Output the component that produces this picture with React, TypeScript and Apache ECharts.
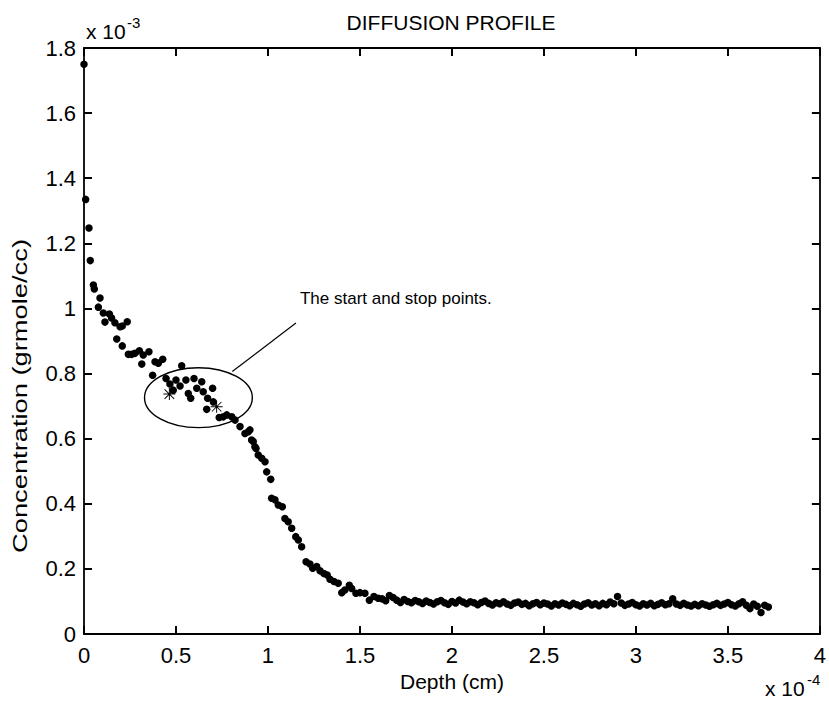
import React, { useEffect, useRef } from "react";
import * as echarts from "echarts";

// Depth in units of 1e-4 cm, concentration in units of 1e-3 grmole/cc
const profile: [number, number][] = [
  [0.000, 1.750], [0.009, 1.335], [0.027, 1.247], [0.034, 1.147], [0.051, 1.072],
  [0.056, 1.060], [0.078, 1.004], [0.087, 1.032], [0.105, 0.986], [0.114, 0.958],
  [0.138, 0.983], [0.150, 0.971], [0.168, 0.956], [0.178, 0.906], [0.196, 0.944],
  [0.208, 0.946], [0.208, 0.885], [0.235, 0.959], [0.241, 0.859], [0.259, 0.859],
  [0.277, 0.862], [0.301, 0.870], [0.314, 0.829], [0.322, 0.857], [0.353, 0.867],
  [0.373, 0.795], [0.386, 0.836], [0.404, 0.832], [0.428, 0.844], [0.446, 0.785],
  [0.467, 0.768], [0.485, 0.749], [0.500, 0.780], [0.522, 0.762], [0.531, 0.824],
  [0.554, 0.780], [0.567, 0.739], [0.580, 0.724], [0.598, 0.785], [0.613, 0.755],
  [0.640, 0.775], [0.648, 0.744], [0.667, 0.690], [0.672, 0.724], [0.699, 0.755],
  [0.703, 0.713], [0.735, 0.665], [0.757, 0.667], [0.776, 0.673], [0.803, 0.667],
  [0.821, 0.657], [0.848, 0.637], [0.875, 0.616], [0.893, 0.621], [0.902, 0.627],
  [0.911, 0.596], [0.920, 0.591], [0.929, 0.575], [0.935, 0.570], [0.947, 0.550],
  [0.966, 0.540], [0.984, 0.529], [0.993, 0.498], [1.015, 0.475], [1.020, 0.417],
  [1.038, 0.412], [1.056, 0.396], [1.078, 0.391], [1.092, 0.355], [1.110, 0.345],
  [1.129, 0.325], [1.151, 0.299], [1.165, 0.289], [1.183, 0.268], [1.207, 0.222],
  [1.228, 0.215], [1.243, 0.202], [1.265, 0.207], [1.283, 0.194], [1.304, 0.186],
  [1.322, 0.181], [1.337, 0.168], [1.359, 0.161], [1.382, 0.156], [1.401, 0.127],
  [1.418, 0.135], [1.442, 0.150], [1.455, 0.140], [1.478, 0.125], [1.500, 0.127],
  [1.527, 0.125], [1.551, 0.104], [1.576, 0.115], [1.599, 0.110],
  [1.62, 0.108], [1.64, 0.102], [1.66, 0.118], [1.68, 0.112], [1.70, 0.104],
  [1.72, 0.097], [1.74, 0.106], [1.76, 0.100], [1.78, 0.096], [1.80, 0.103],
  [1.82, 0.099], [1.84, 0.094], [1.86, 0.101], [1.88, 0.097], [1.90, 0.092],
  [1.92, 0.099], [1.94, 0.103], [1.96, 0.096], [1.98, 0.091], [2.00, 0.100],
  [2.02, 0.095], [2.04, 0.104], [2.06, 0.098], [2.08, 0.093], [2.10, 0.099],
  [2.12, 0.096], [2.14, 0.090], [2.16, 0.097], [2.18, 0.101], [2.20, 0.094],
  [2.22, 0.089], [2.24, 0.096], [2.26, 0.093], [2.28, 0.099], [2.30, 0.092],
  [2.32, 0.088], [2.34, 0.095], [2.36, 0.098], [2.38, 0.091], [2.40, 0.094],
  [2.42, 0.087], [2.44, 0.093], [2.46, 0.097], [2.48, 0.090], [2.50, 0.095],
  [2.52, 0.092], [2.54, 0.086], [2.56, 0.093], [2.58, 0.089], [2.60, 0.095],
  [2.62, 0.091], [2.64, 0.087], [2.66, 0.094], [2.68, 0.090], [2.70, 0.085],
  [2.72, 0.092], [2.74, 0.096], [2.76, 0.089], [2.78, 0.093], [2.80, 0.087],
  [2.82, 0.094], [2.84, 0.090], [2.86, 0.098], [2.88, 0.093], [2.90, 0.115],
  [2.92, 0.095], [2.94, 0.088], [2.96, 0.092], [2.98, 0.097], [3.00, 0.090],
  [3.02, 0.086], [3.04, 0.093], [3.06, 0.089], [3.08, 0.094], [3.10, 0.087],
  [3.12, 0.091], [3.14, 0.096], [3.16, 0.090], [3.18, 0.093], [3.20, 0.108],
  [3.22, 0.092], [3.24, 0.088], [3.26, 0.094], [3.28, 0.089], [3.30, 0.086],
  [3.32, 0.091], [3.34, 0.087], [3.36, 0.093], [3.38, 0.089], [3.40, 0.085],
  [3.42, 0.090], [3.44, 0.094], [3.46, 0.088], [3.48, 0.092], [3.50, 0.097],
  [3.52, 0.090], [3.54, 0.086], [3.56, 0.093], [3.58, 0.099], [3.60, 0.088],
  [3.62, 0.078], [3.64, 0.092], [3.66, 0.085], [3.68, 0.066], [3.70, 0.088],
  [3.72, 0.083],
];

const startStop: [number, number][] = [
  [0.464, 0.737],
  [0.721, 0.698],
];

const X_MIN = 0, X_MAX = 4, X_STEP = 0.5;
const Y_MIN = 0, Y_MAX = 1.8, Y_STEP = 0.2;

const titleText = "DIFFUSION PROFILE";
const xName = "Depth (cm)";
const yName = "Concentration (grmole/cc)";
const noteText = "The start and stop points.";

// annotation geometry (data units)
const ellipseCenter: [number, number] = [0.622, 0.726];
const ellipseRadius: [number, number] = [0.293, 0.092];
const pointerFrom: [number, number] = [0.806, 0.806];
const pointerTo: [number, number] = [1.152, 0.955];
const noteAt: [number, number] = [1.174, 1.032];

const FONT = "'Liberation Sans', Arial, Helvetica, sans-serif";
const STAR =
  "path://M0 9.2H20V10.8H0Z M9.2 0H10.8V20H9.2Z M2.6 1.5L18.5 17.4L17.4 18.5L1.5 2.6Z M17.4 1.5L18.5 2.6L2.6 18.5L1.5 17.4Z";

export default function App() {
  const ref = useRef<HTMLDivElement>(null);
  useEffect(() => {
    document.body.style.margin = "0";
    const chart = echarts.init(ref.current!, null, { renderer: "svg" });
    const mkLine = () => ({ show: true, onZero: false, lineStyle: { color: "#000", width: 1.8 } });
    const mkTick = () => ({ show: true, inside: true, length: 8, lineStyle: { color: "#000", width: 2 } });
    const label = { color: "#000", fontSize: 22, fontFamily: FONT };
    const option: any = {
      animation: false,
      backgroundColor: "#fff",
      title: {
        text: titleText,
        left: 451,
        top: 12,
        textAlign: "center",
        padding: 0,
        textStyle: { fontFamily: FONT, fontSize: 21, fontWeight: "normal", color: "#000" },
      },
      grid: { left: 84, right: 9, top: 48, bottom: 70 },
      xAxis: [
        {
          type: "value", min: X_MIN, max: X_MAX, interval: X_STEP, position: "bottom",
          name: xName, nameLocation: "middle", nameGap: 32,
          nameTextStyle: { ...label, fontSize: 21 },
          axisLine: mkLine(), axisTick: mkTick(),
          axisLabel: { ...label, margin: 10 }, splitLine: { show: false },
        },
        {
          type: "value", min: X_MIN, max: X_MAX, interval: X_STEP, position: "top",
          axisLine: mkLine(), axisTick: mkTick(),
          axisLabel: { show: false }, splitLine: { show: false },
        },
      ],
      yAxis: [
        {
          type: "value", min: Y_MIN, max: Y_MAX, interval: Y_STEP, position: "left",
          axisLine: mkLine(), axisTick: mkTick(),
          axisLabel: { ...label, margin: 8 }, splitLine: { show: false },
        },
        {
          type: "value", min: Y_MIN, max: Y_MAX, interval: Y_STEP, position: "right",
          axisLine: mkLine(), axisTick: mkTick(),
          axisLabel: { show: false }, splitLine: { show: false },
        },
      ],
      series: [
        {
          type: "scatter", xAxisIndex: 0, yAxisIndex: 0, data: profile,
          symbol: "circle", symbolSize: 7.5, itemStyle: { color: "#000", opacity: 1 },
        },
        {
          type: "scatter", xAxisIndex: 0, yAxisIndex: 0, data: startStop,
          symbol: STAR, symbolSize: 12, itemStyle: { color: "#000", opacity: 1 },
        },
      ],
    };
    chart.setOption(option);

    const px = (p: [number, number]) => chart.convertToPixel({ gridIndex: 0 }, p) as number[];
    const c = px(ellipseCenter);
    const e = px([ellipseCenter[0] + ellipseRadius[0], ellipseCenter[1] + ellipseRadius[1]]);
    const a = px(pointerFrom);
    const b = px(pointerTo);
    const n = px(noteAt);
    const tl = px([X_MIN, Y_MAX]);
    const br = px([X_MAX, Y_MIN]);
    const txt = { fill: "#000", fontFamily: FONT };
    chart.setOption({
      graphic: [
        {
          type: "ellipse", silent: true,
          shape: { cx: c[0], cy: c[1], rx: e[0] - c[0], ry: c[1] - e[1] },
          style: { fill: "none", stroke: "#000", lineWidth: 1.4 },
        },
        {
          type: "line", silent: true,
          shape: { x1: a[0], y1: a[1], x2: b[0], y2: b[1] },
          style: { stroke: "#000", lineWidth: 1.2 },
        },
        {
          type: "text", x: n[0], y: n[1],
          style: { ...txt, text: noteText, fontSize: 17, align: "left", verticalAlign: "middle" },
        },
        {
          type: "text", x: 20, y: 396, rotation: Math.PI / 2, scaleX: 1.3,
          style: { ...txt, text: yName, fontSize: 21, align: "center", verticalAlign: "middle" },
        },
        {
          type: "text", x: tl[0] + 2, y: tl[1] - 6,
          style: { ...txt, text: "x 10", fontSize: 21, align: "left", verticalAlign: "bottom" },
        },
        {
          type: "text", x: tl[0] + 43, y: tl[1] - 18,
          style: { ...txt, text: "-3", fontSize: 15, align: "left", verticalAlign: "bottom" },
        },
        {
          type: "text", x: br[0] - 55, y: br[1] + 65,
          style: { ...txt, text: "x 10", fontSize: 21, align: "left", verticalAlign: "bottom" },
        },
        {
          type: "text", x: br[0] - 13, y: br[1] + 53,
          style: { ...txt, text: "-4", fontSize: 15, align: "left", verticalAlign: "bottom" },
        },
      ],
    });
    return () => chart.dispose();
  }, []);
  return <div ref={ref} style={{ width: 829, height: 704 }} />;
}
